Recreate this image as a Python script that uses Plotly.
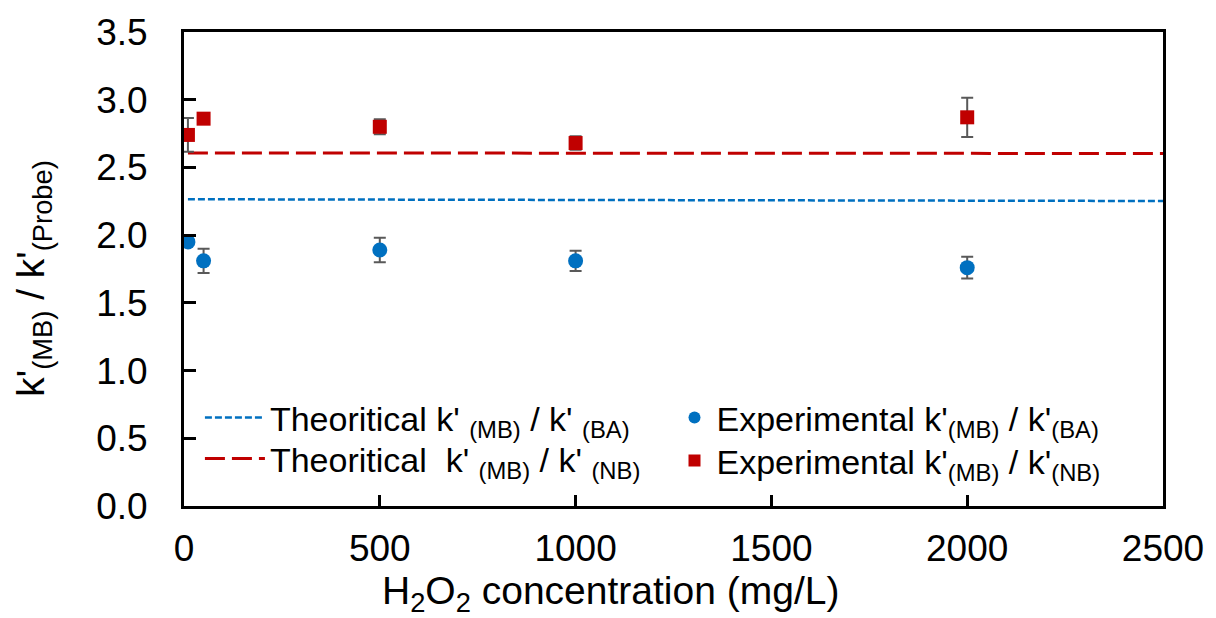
import plotly.graph_objects as go

# ---- data ----
conc = [10, 50, 500, 1000, 2000]
exp_ba = [1.95, 1.81, 1.89, 1.81, 1.76]
exp_ba_err = [0.0, 0.09, 0.09, 0.075, 0.08]
exp_nb = [2.74, 2.86, 2.80, 2.68, 2.87]
exp_nb_err = [0.125, 0.0, 0.055, 0.05, 0.145]
theo_x = [10, 2500]
theo_ba = [2.265, 2.252]
theo_nb = [2.607, 2.603]

BLUE = "#0070C0"
RED = "#C00000"
ERR = "#595959"
FONT = "Liberation Sans, Arial, sans-serif"

fig = go.Figure()

fig.add_trace(go.Scatter(
    x=theo_x, y=theo_ba, mode="lines",
    line=dict(color=BLUE, width=2.5, dash="7px,3px"),
    name="Theoritical k' <sub>(MB)</sub> / k' <sub>(BA)</sub>",
    legend="legend",
))
fig.add_trace(go.Scatter(
    x=theo_x, y=theo_nb, mode="lines",
    line=dict(color=RED, width=3, dash="20px,7px"),
    name="Theoritical  k' <sub>(MB)</sub> / k' <sub>(NB)</sub>",
    legend="legend2",
))
fig.add_trace(go.Scatter(
    x=conc, y=exp_ba, mode="markers",
    marker=dict(symbol="circle", size=15, color=BLUE),
    error_y=dict(type="data", array=exp_ba_err, color=ERR, thickness=2, width=6),
    name="Experimental k'<sub>(MB)</sub> / k'<sub>(BA)</sub>",
    legend="legend3",
))
fig.add_trace(go.Scatter(
    x=conc, y=exp_nb, mode="markers",
    marker=dict(symbol="square", size=14, color=RED),
    error_y=dict(type="data", array=exp_nb_err, color=ERR, thickness=2, width=6),
    name="Experimental k'<sub>(MB)</sub> / k'<sub>(NB)</sub>",
    legend="legend4",
))

L, R, T, B = 184, 48, 32, 112
W, H = 1216, 618
pw, ph = W - L - R, H - T - B

def px(xp):
    return (xp - L) / pw

def py(yp):
    return (H - B - yp) / ph

def leg(xp, yp, **kw):
    d = dict(x=px(xp), y=py(yp), xanchor="left", yanchor="top",
             bgcolor="rgba(0,0,0,0)", font=dict(size=34), tracegroupgap=0)
    d.update(kw)
    return d

fig.update_layout(
    width=W, height=H,
    margin=dict(l=L, r=R, t=T, b=B),
    paper_bgcolor="white", plot_bgcolor="white",
    font=dict(family=FONT, size=37, color="black"),
    showlegend=True,
    legend=leg(200, 389, itemwidth=60),
    legend2=leg(200, 430, itemwidth=60),
    legend3=leg(675, 389, itemwidth=34, itemsizing="constant"),
    legend4=leg(675, 432, itemwidth=34, itemsizing="constant"),
    xaxis=dict(
        range=[0, 2500], dtick=500, tick0=0,
        ticks="inside", ticklen=11, tickwidth=3, tickcolor="black",
        showline=True, linewidth=3, linecolor="black", mirror=True,
        showgrid=False, zeroline=False, ticklabelstandoff=8,
    ),
    yaxis=dict(
        range=[0, 3.5], dtick=0.5, tick0=0, tickformat=".1f",
        ticks="inside", ticklen=12, tickwidth=3, tickcolor="black",
        showline=True, linewidth=3, linecolor="black", mirror=True,
        showgrid=False, zeroline=False, ticklabelstandoff=26,
    ),
    annotations=[
        dict(text="H<sub>2</sub>O<sub>2</sub> concentration (mg/L)",
             xref="paper", yref="paper", x=px(613), y=py(593),
             xanchor="center", yanchor="middle", showarrow=False,
             font=dict(size=39)),
        dict(text="k'<sub>(MB)</sub> / k'<sub>(Probe)</sub>",
             xref="paper", yref="paper", x=px(32), y=py(278),
             xanchor="center", yanchor="middle", showarrow=False,
             textangle=-90, font=dict(size=39)),
    ],
)

fig.write_html("out.html")
